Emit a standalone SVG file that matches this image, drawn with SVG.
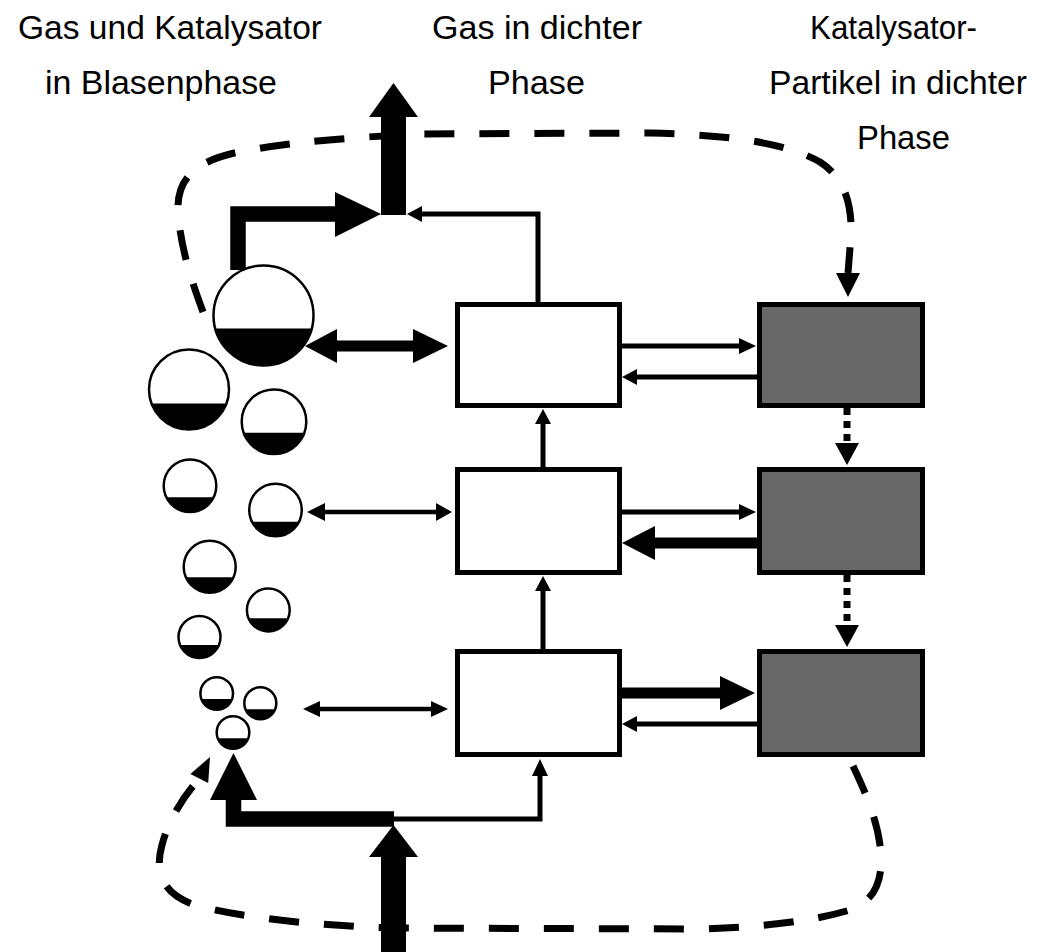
<svg xmlns="http://www.w3.org/2000/svg" width="1042" height="952" viewBox="0 0 1042 952">
<style>
.box-w{fill:#fff;stroke:#000;stroke-width:5}
.box-g{fill:#686868;stroke:#000;stroke-width:5}
.bub{fill:#fff;stroke:#000;stroke-width:2.5}
.liq{fill:#000}
.thin{stroke:#000;stroke-width:5;fill:none}
.mid{stroke:#000;stroke-width:4.5;fill:none}
.thick{stroke:#000;stroke-width:11;fill:none}
.fat{stroke:#000;stroke-width:15.5;fill:none;stroke-linejoin:miter}
.dash{stroke:#000;stroke-width:7;fill:none;stroke-dasharray:30 25}
.dot{stroke:#000;stroke-width:7;fill:none;stroke-dasharray:7 6}
.head{fill:#000}
.lbl{font-family:"Liberation Sans Narrow","Liberation Sans",Arial,sans-serif;font-size:34px;fill:#000;text-anchor:middle}
</style>
<rect width="1042" height="952" fill="#fff"/>

<g id="labels">
<text class="lbl" x="170" y="39" textLength="304" lengthAdjust="spacingAndGlyphs">Gas und Katalysator</text>
<text class="lbl" x="161" y="94" textLength="232" lengthAdjust="spacingAndGlyphs">in Blasenphase</text>
<text class="lbl" x="537" y="39" textLength="210" lengthAdjust="spacingAndGlyphs">Gas in dichter</text>
<text class="lbl" x="536.5" y="94" textLength="97" lengthAdjust="spacingAndGlyphs">Phase</text>
<text class="lbl" x="893.5" y="39" textLength="167" lengthAdjust="spacingAndGlyphs">Katalysator-</text>
<text class="lbl" x="898" y="94" textLength="258" lengthAdjust="spacingAndGlyphs">Partikel in dichter</text>
<text class="lbl" x="903.5" y="149" textLength="93" lengthAdjust="spacingAndGlyphs">Phase</text>
</g>

<g id="connectors">
<!-- dashed recirculation loops -->
<path class="dash" d="M203,312 C195,290 180,250 178,210 C177,175 200,158 250,150 C300,141 360,137 420,134 L650,133 C740,135 790,145 820,162 C845,178 852,205 851,235 L848,273"/>
<polygon class="head" points="836,273 848,297 860,273"/>
<path class="dash" d="M853,766 C862,785 876,815 880,845 C884,875 878,900 850,910 C810,922 760,927 700,929 L390,928 C300,925 230,915 195,905 C160,893 155,870 162,845 C167,825 180,800 199,779"/>
<polygon class="head" points="208.2,783 210,757 190.4,774"/>

<!-- gas outlet -->
<rect x="381" y="116" width="25" height="99" fill="#000"/>
<polygon class="head" points="369,117 393.5,83 418,117"/>
<polyline class="fat" points="238,270 238,214 336,214"/>
<polygon class="head" points="335,192 381,214 335,237"/>
<polyline class="thin" points="538,302 538,214 421,214"/>
<polygon class="head" points="422,206 407,214 422,222"/>

<!-- gas inlet -->
<rect x="381" y="856" width="25" height="96" fill="#000"/>
<polygon class="head" points="369,857 393.5,825 418,857"/>
<polyline class="fat" points="394,819 233.5,819 233.5,799"/>
<polygon class="head" points="210,800 233.5,753 257,800"/>
<polyline class="thin" points="393,819 540,819 540,775"/>
<polygon class="head" points="532,776 540,759 548,776"/>

<!-- dense gas upflow -->
<line class="thin" x1="543" y1="467" x2="543" y2="423"/>
<polygon class="head" points="535,424 543,409 551,424"/>
<line class="thin" x1="543" y1="649" x2="543" y2="590"/>
<polygon class="head" points="535,591 543,576 551,591"/>

<!-- bubble <-> dense gas exchange -->
<line class="thick" x1="336" y1="346" x2="414" y2="346"/>
<polygon class="head" points="337,329 305,346 337,363"/>
<polygon class="head" points="413,329 448,346 413,363"/>
<line class="mid" x1="324" y1="512" x2="437" y2="512"/>
<polygon class="head" points="325,503 307,512 325,521"/>
<polygon class="head" points="436,503 452,512 436,521"/>
<line class="mid" x1="319" y1="709" x2="432" y2="709"/>
<polygon class="head" points="320,701 303,709 320,717"/>
<polygon class="head" points="431,701 448,709 431,717"/>

<!-- dense gas <-> catalyst -->
<line class="thin" x1="622" y1="346" x2="740" y2="346"/>
<polygon class="head" points="739,338 756,346 739,354"/>
<line class="thin" x1="757" y1="377" x2="636" y2="377"/>
<polygon class="head" points="637,369 622,377 637,385"/>
<line class="thin" x1="622" y1="512" x2="740" y2="512"/>
<polygon class="head" points="739,504 756,512 739,520"/>
<line class="thick" x1="757" y1="543" x2="654" y2="543"/>
<polygon class="head" points="655,526 622,543 655,560"/>
<line class="thick" x1="622" y1="693" x2="721" y2="693"/>
<polygon class="head" points="720,676 755,693 720,710"/>
<line class="thin" x1="757" y1="724" x2="636" y2="724"/>
<polygon class="head" points="637,716 622,724 637,732"/>

<!-- catalyst downflow -->
<line class="dot" x1="847" y1="408" x2="847" y2="443"/>
<polygon class="head" points="835,443 847,465 859,443"/>
<line class="dot" x1="847" y1="575" x2="847" y2="625"/>
<polygon class="head" points="835,625 847,647 859,625"/>
</g>

<g id="dense-gas-1"><rect class="box-w" x="457.5" y="304.5" width="162" height="101"/></g>
<g id="dense-gas-2"><rect class="box-w" x="457.5" y="469.5" width="162" height="103"/></g>
<g id="dense-gas-3"><rect class="box-w" x="457.5" y="651.5" width="162" height="103"/></g>
<g id="catalyst-1"><rect class="box-g" x="759.5" y="304.5" width="163" height="101"/></g>
<g id="catalyst-2"><rect class="box-g" x="759.5" y="469.5" width="163" height="103"/></g>
<g id="catalyst-3"><rect class="box-g" x="759.5" y="651.5" width="163" height="103"/></g>

<g id="bubble-1"><circle class="bub" cx="263.5" cy="315.5" r="50"/><path class="liq" d="M215.2,328.5 A50,50 0 0 0 311.8,328.5 Z"/></g>
<g id="bubble-2"><circle class="bub" cx="189" cy="389.5" r="40"/><path class="liq" d="M151.5,403.5 A40,40 0 0 0 226.5,403.5 Z"/></g>
<g id="bubble-3"><circle class="bub" cx="274" cy="421.7" r="32.3"/><path class="liq" d="M243.6,432.7 A32.3,32.3 0 0 0 304.4,432.7 Z"/></g>
<g id="bubble-4"><circle class="bub" cx="190" cy="485.8" r="26.3"/><path class="liq" d="M166.35,497.3 A26.3,26.3 0 0 0 213.65,497.3 Z"/></g>
<g id="bubble-5"><circle class="bub" cx="275.5" cy="510" r="26.3"/><path class="liq" d="M251.95,521.7 A26.3,26.3 0 0 0 299.05,521.7 Z"/></g>
<g id="bubble-6"><circle class="bub" cx="209.7" cy="566.7" r="26"/><path class="liq" d="M185.96,577.3 A26,26 0 0 0 233.44,577.3 Z"/></g>
<g id="bubble-7"><circle class="bub" cx="268.3" cy="610" r="21.4"/><path class="liq" d="M248.58,618.3 A21.4,21.4 0 0 0 288.02,618.3 Z"/></g>
<g id="bubble-8"><circle class="bub" cx="199.5" cy="637" r="21"/><path class="liq" d="M180.08,645 A21,21 0 0 0 218.92,645 Z"/></g>
<g id="bubble-9"><circle class="bub" cx="216.7" cy="693.5" r="16.3"/><path class="liq" d="M201.36,699 A16.3,16.3 0 0 0 232.04,699 Z"/></g>
<g id="bubble-10"><circle class="bub" cx="260.3" cy="703.3" r="16"/><path class="liq" d="M245.47,709.3 A16,16 0 0 0 275.13,709.3 Z"/></g>
<g id="bubble-11"><circle class="bub" cx="233" cy="732.5" r="16.3"/><path class="liq" d="M217.77,738.3 A16.3,16.3 0 0 0 248.23,738.3 Z"/></g>
</svg>
